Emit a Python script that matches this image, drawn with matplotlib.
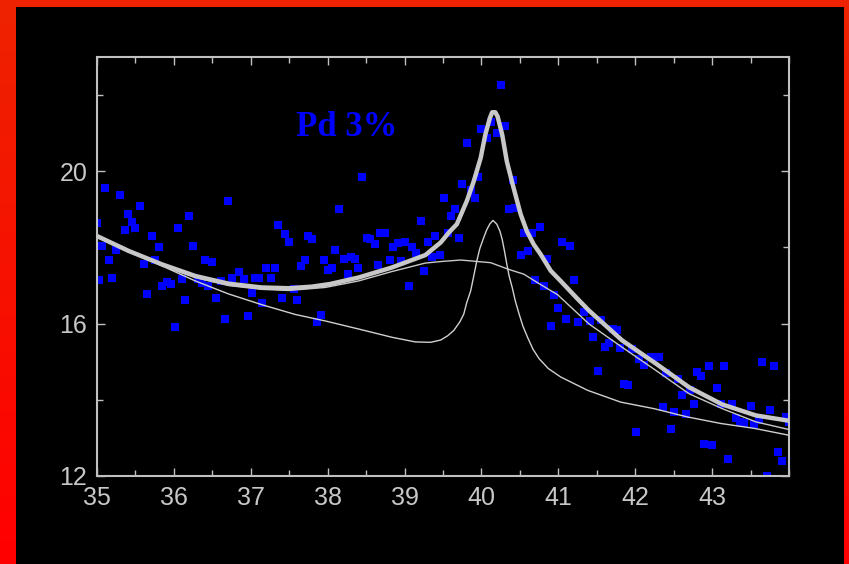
import numpy as np
import matplotlib.pyplot as plt
from matplotlib.patches import Rectangle
from matplotlib.colors import LinearSegmentedColormap

# measured points (2theta, intensity)
data_x = [35.00, 35.03, 35.06, 35.10, 35.15, 35.20, 35.25, 35.30, 35.36, 35.40,
          35.46, 35.50, 35.56, 35.61, 35.65, 35.71, 35.75, 35.80, 35.85, 35.91,
          35.96, 36.01, 36.05, 36.11, 36.15, 36.20, 36.25, 36.31, 36.36, 36.41,
          36.45, 36.50, 36.55, 36.61, 36.66, 36.70, 36.75, 36.85, 36.91, 36.96,
          37.01, 37.05, 37.11, 37.15, 37.20, 37.26, 37.31, 37.35, 37.41, 37.45,
          37.50, 37.56, 37.60, 37.65, 37.70, 37.75, 37.80, 37.86, 37.91, 37.95,
          38.00, 38.06, 38.10, 38.15, 38.21, 38.26, 38.30, 38.36, 38.40, 38.45,
          38.51, 38.55, 38.61, 38.65, 38.68, 38.74, 38.81, 38.85, 38.91, 38.95,
          39.00, 39.06, 39.10, 39.15, 39.21, 39.25, 39.30, 39.36, 39.40, 39.46,
          39.51, 39.56, 39.61, 39.66, 39.71, 39.75, 39.81, 39.86, 39.91, 39.96,
          39.99, 40.07, 40.13, 40.20, 40.26, 40.31, 40.36, 40.41, 40.44, 40.51,
          40.55, 40.60, 40.66, 40.70, 40.76, 40.81, 40.85, 40.91, 40.95, 41.00,
          41.05, 41.10, 41.15, 41.20, 41.25, 41.33, 41.41, 41.45, 41.51, 41.55,
          41.61, 41.66, 41.71, 41.76, 41.80, 41.85, 41.90, 41.96, 42.01, 42.05,
          42.11, 42.20, 42.31, 42.36, 42.40, 42.46, 42.50, 42.56, 42.61, 42.66,
          42.71, 42.76, 42.80, 42.86, 42.90, 42.96, 43.00, 43.06, 43.11, 43.16,
          43.21, 43.26, 43.31, 43.36, 43.42, 43.51, 43.55, 43.61, 43.65, 43.71,
          43.75, 43.81, 43.86, 43.91, 43.96, 44.00]
data_y = [18.63, 17.14, 18.04, 19.56, 17.67, 17.20, 17.93, 19.37, 18.47, 18.87,
          18.67, 18.50, 19.10, 17.57, 16.78, 18.30, 17.67, 18.01, 16.99, 17.10,
          17.04, 15.91, 18.50, 17.18, 16.63, 18.82, 18.04, 17.18, 17.07, 17.67,
          16.99, 17.61, 16.68, 17.13, 16.11, 19.23, 17.21, 17.36, 17.16, 16.21,
          16.81, 17.20, 17.20, 16.54, 17.47, 17.20, 17.47, 18.58, 16.68, 18.35,
          18.15, 16.92, 16.61, 17.51, 17.67, 18.31, 18.21, 16.04, 16.22, 17.67,
          17.41, 17.47, 17.93, 19.00, 17.71, 17.30, 17.75, 17.70, 17.45, 19.84,
          18.26, 18.21, 18.08, 17.54, 18.39, 18.39, 17.68, 18.02, 18.12, 17.65,
          18.15, 16.98, 18.02, 17.85, 18.70, 17.38, 18.15, 17.75, 18.30, 17.79,
          19.30, 18.39, 18.82, 19.01, 18.24, 19.67, 20.74, 19.51, 19.30, 19.86,
          21.10, 20.87, 21.29, 21.01, 22.26, 21.19, 19.00, 19.76, 19.03, 17.81,
          18.39, 17.92, 18.39, 17.15, 18.54, 16.98, 17.71, 15.94, 16.74, 16.41,
          18.15, 16.11, 18.05, 17.14, 16.03, 16.30, 16.06, 15.65, 14.75, 16.10,
          15.38, 15.48, 15.85, 15.84, 15.35, 14.42, 14.38, 15.33, 13.16, 15.07,
          14.92, 15.12, 15.12, 13.81, 14.70, 13.23, 13.69, 14.55, 14.12, 13.64,
          14.27, 13.90, 14.73, 14.62, 12.85, 14.88, 12.81, 14.31, 13.90, 14.88,
          12.45, 13.89, 13.52, 13.42, 13.40, 13.85, 13.36, 13.48, 14.99, 12.01,
          13.72, 14.90, 12.63, 12.39, 13.55, 13.42]

# total fit (thick line)
fit_x = [35.00, 35.41, 35.84, 36.28, 36.71, 37.14, 37.49, 37.79, 38.03, 38.40,
         38.83, 39.27, 39.47, 39.58, 39.68, 39.81, 39.90, 39.99, 40.05, 40.11,
         40.14, 40.18, 40.21, 40.27, 40.33, 40.40, 40.51, 40.59, 40.68, 40.77,
         40.90, 41.03, 41.25, 41.40, 41.83, 42.27, 42.70, 43.13, 43.57, 44.00]
fit_y = [18.30, 17.91, 17.56, 17.25, 17.05, 16.95, 16.93, 16.97, 17.04, 17.21,
         17.47, 17.80, 18.13, 18.40, 18.61, 19.22, 19.74, 20.35, 20.96, 21.40,
         21.55, 21.55, 21.44, 20.96, 20.26, 19.70, 18.87, 18.43, 18.08, 17.82,
         17.39, 17.12, 16.65, 16.34, 15.56, 14.95, 14.33, 13.88, 13.59, 13.45]

# broad component
broad_x = [35.00, 35.41, 35.84, 36.28, 36.71, 37.14, 37.49, 37.97, 38.40, 38.84,
           39.27, 39.47, 39.73, 40.12, 40.36, 40.55, 40.75, 40.99, 41.40, 41.83,
           42.27, 42.70, 43.13, 43.57, 44.00]
broad_y = [18.27, 17.89, 17.53, 17.21, 17.00, 16.90, 16.87, 16.95, 17.12, 17.37,
           17.59, 17.63, 17.67, 17.60, 17.42, 17.30, 17.05, 16.76, 15.99, 15.38,
           14.77, 14.16, 13.77, 13.42, 13.22]

# narrow component
narrow_x = [35.00, 35.41, 35.84, 36.28, 36.71, 37.14, 37.58, 37.97, 38.40, 38.84,
            39.14, 39.34, 39.47, 39.56, 39.64, 39.72, 39.77, 39.81, 39.86, 39.90,
            39.94, 39.98, 40.03, 40.07, 40.11, 40.15, 40.20, 40.24, 40.27, 40.30,
            40.33, 40.36, 40.40, 40.44, 40.49, 40.54, 40.60, 40.67, 40.75, 40.87,
            41.03, 41.38, 41.81, 42.24, 42.68, 43.11, 43.55, 44.00]
narrow_y = [18.27, 17.93, 17.52, 17.12, 16.78, 16.50, 16.24, 16.07, 15.86, 15.64,
            15.52, 15.51, 15.57, 15.68, 15.82, 16.05, 16.25, 16.56, 16.86, 17.25,
            17.65, 17.98, 18.26, 18.47, 18.62, 18.71, 18.61, 18.43, 18.21, 17.90,
            17.56, 17.25, 16.95, 16.60, 16.25, 15.93, 15.64, 15.33, 15.08, 14.82,
            14.60, 14.25, 13.94, 13.77, 13.55, 13.38, 13.25, 13.07]

label = 'Pd 3%'

fig = plt.figure(figsize=(8.49, 5.64), dpi=100)

# red frame with a slight gradient, black inside
bg = fig.add_axes([0, 0, 1, 1])
bg.axis('off')
frame_cmap = LinearSegmentedColormap.from_list('frame', ['#ff0000', '#ee2200'])
bg.imshow(np.linspace(0, 1, 100).reshape(-1, 1), cmap=frame_cmap, origin='lower',
          aspect='auto', extent=[0, 1, 0, 1])
bg.add_patch(Rectangle((16 / 849, 0), (844 - 16) / 849, 1 - 7 / 564,
                       facecolor='black', edgecolor='none'))
bg.set_xlim(0, 1)
bg.set_ylim(0, 1)

ax = fig.add_axes([97 / 849, 1 - 476 / 564, (789 - 97) / 849, (476 - 57) / 564])
ax.set_facecolor('black')

ax.plot(data_x, data_y, 's', color='#0000ff', markersize=6.3, markeredgewidth=0, zorder=2)
ax.plot(broad_x, broad_y, color='#c8c8c8', linewidth=1.0, zorder=3)
ax.plot(narrow_x, narrow_y, color='#d0d0d0', linewidth=1.0, zorder=3)
ax.plot(fit_x, fit_y, color='#c8c8c8', linewidth=3.2, solid_capstyle='round',
        solid_joinstyle='round', zorder=4)

ax.text(37.59, 20.92, label, color='#0000ff', fontsize=25, fontweight='bold',
        family='Liberation Serif', ha='left', va='baseline')

ax.set_xlim(35, 44)
ax.set_ylim(12, 23)
ax.set_xticks(range(35, 44))
ax.set_xticks(np.arange(35, 44.01, 0.5), minor=True)
ax.set_yticks([12, 16, 20])
ax.set_yticks([14, 18, 22], minor=True)

gray = '#c0c0c0'
for s in ax.spines.values():
    s.set_color(gray)
    s.set_linewidth(1.5)
ax.tick_params(which='both', direction='in', top=True, right=True, color=gray, width=1.0,
               labelcolor='#c8c8c8', labelsize=18, pad=7)
ax.tick_params(which='major', length=6)
ax.tick_params(which='minor', length=4)
for t in ax.get_xticklabels() + ax.get_yticklabels():
    t.set_family('Liberation Sans')

fig.savefig('out.png', dpi=100, facecolor=fig.get_facecolor())
